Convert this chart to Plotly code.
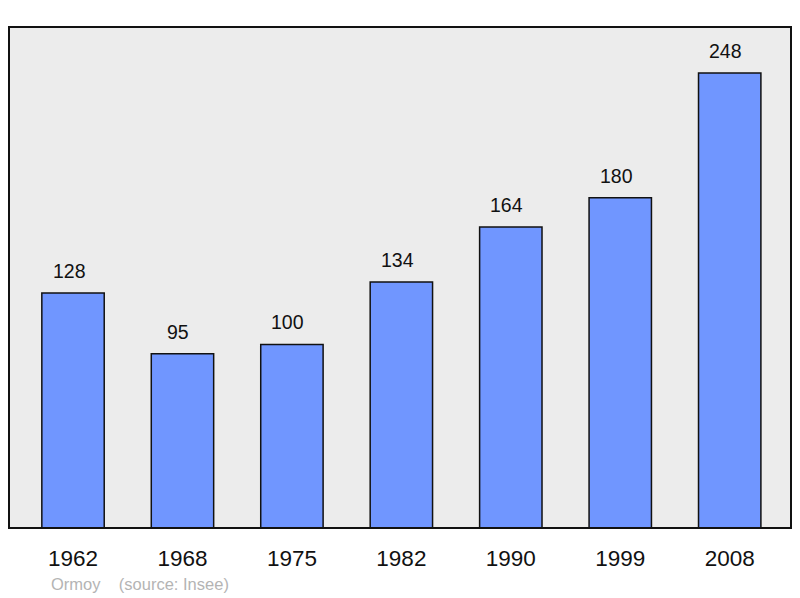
import plotly.graph_objects as go

years = ["1962", "1968", "1975", "1982", "1990", "1999", "2008"]
population = [128, 95, 100, 134, 164, 180, 248]

fig = go.Figure()
fig.add_trace(go.Bar(
    x=years, y=population, width=0.57,
    marker=dict(color="#7096ff", line=dict(color="#111111", width=1.5)),
    hoverinfo="skip",
))

for i, v in enumerate(population):
    fig.add_annotation(x=i, y=v, text=str(v), showarrow=False,
                       yanchor="bottom", yshift=9, xshift=-4,
                       font=dict(family="Liberation Sans, Arial", size=19.5, color="#111111"))

fig.add_annotation(xref="paper", yref="paper", x=0.051, y=-0.09, xanchor="left",
                   yanchor="top", showarrow=False,
                   text="Ormoy&nbsp;&nbsp;&nbsp;&nbsp;(source: Insee)",
                   font=dict(family="Liberation Sans, Arial", size=16.5, color="#b4b4b4"))

fig.add_shape(type="rect", xref="paper", yref="paper", x0=0, y0=0, x1=1, y1=1,
              line=dict(color="#111111", width=2), layer="above")

fig.update_layout(
    width=800, height=598,
    margin=dict(l=9, r=9, t=27, b=70),
    paper_bgcolor="white", plot_bgcolor="#ececec",
    showlegend=False, bargap=0.4,
    xaxis=dict(type="category", range=[-0.585, 6.56], showgrid=False, zeroline=False,
               ticks="outside", ticklen=10, tickcolor="rgba(0,0,0,0)",
               tickfont=dict(family="Liberation Sans, Arial", size=22.5, color="#111111")),
    yaxis=dict(range=[0, 273], showgrid=False, zeroline=False, showticklabels=False,
               fixedrange=True),
)

fig.write_html("out.html", config={"displayModeBar": False},
               post_script="document.body.style.margin='0';document.body.style.overflow='hidden';")
